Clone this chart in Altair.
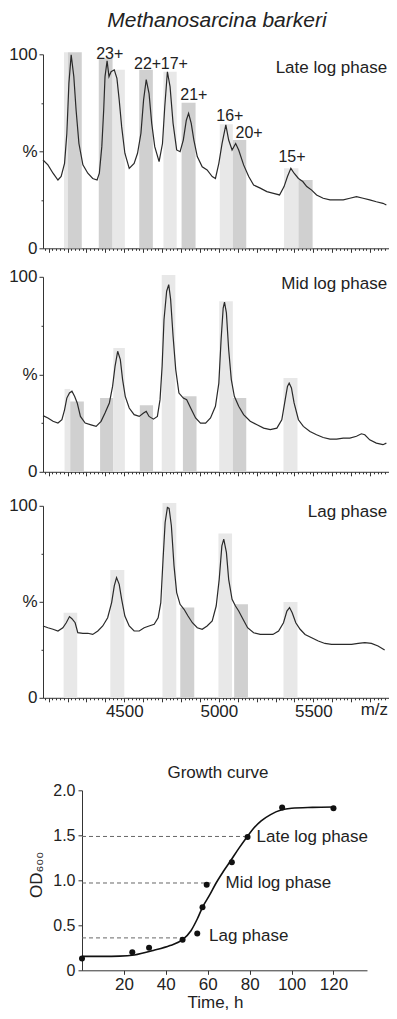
import altair as alt
import pandas as pd

FONT = "Liberation Sans"
INK = "#222222"
LIGHT = "#e8e8e8"
DARK = "#d0d0d0"

# ---------------- Mass spectra (m/z vs relative intensity %) ----------------
late_mz = [4070, 4096, 4123, 4149, 4166, 4184, 4196, 4207, 4219, 4233, 4245, 4260, 4281, 4307, 4333,
           4356, 4368, 4381, 4391, 4398, 4409, 4419, 4430, 4447, 4461, 4473, 4486, 4503, 4526, 4552,
           4570, 4588, 4602, 4616, 4631, 4645, 4661, 4684, 4702, 4714, 4728, 4742, 4758, 4777, 4795,
           4812, 4828, 4840, 4854, 4868, 4886, 4912, 4938, 4965, 4982, 5000, 5017, 5037, 5052, 5070,
           5089, 5105, 5131, 5158, 5184, 5219, 5254, 5289, 5321, 5345, 5363, 5381, 5398, 5421, 5444,
           5465, 5491, 5517, 5552, 5588, 5623, 5658, 5693, 5728, 5763, 5798, 5833, 5868, 5886]
late_pct = [45.5, 43, 38.7, 35.2, 37, 43.8, 59, 85, 99.7, 88.5, 71.3, 54, 43, 38.7, 36,
            35.2, 38.7, 52.4, 71.3, 88.5, 96.6, 88.5, 91, 92, 87.6, 76.5, 62.7, 49, 41.2, 43.8,
            49, 59.3, 76.5, 87, 79.7, 64.4, 52.4, 44.7, 54, 73, 91, 83.3, 64.4, 50.7, 49.8,
            55.8, 66, 69.6, 64.4, 55.8, 47.3, 42, 40.4, 37, 36, 43.8, 54, 63.6, 55.8, 50.7,
            54, 50.7, 43, 37, 32.6, 31, 29.2, 28.3, 27.5, 31.8, 37, 41.2, 38.7, 36, 34.4,
            31.8, 30, 27.5, 25.8, 25, 25, 25, 25.8, 26.6, 25.8, 25, 24, 23.2, 22.3]

mid_mz = [4070, 4096, 4123, 4149, 4170, 4184, 4196, 4210, 4223, 4237, 4251, 4268, 4293, 4324, 4351,
          4377, 4398, 4421, 4438, 4451, 4465, 4479, 4491, 4505, 4526, 4552, 4579, 4602, 4616, 4631,
          4654, 4675, 4689, 4700, 4710, 4724, 4735, 4745, 4758, 4772, 4789, 4812, 4830, 4851, 4877,
          4903, 4930, 4956, 4982, 5000, 5012, 5023, 5030, 5040, 5052, 5066, 5082, 5105, 5131, 5166,
          5202, 5237, 5272, 5307, 5333, 5351, 5363, 5372, 5384, 5398, 5421, 5447, 5482, 5517, 5552,
          5588, 5623, 5658, 5693, 5728, 5754, 5772, 5798, 5833, 5868, 5886]
mid_pct = [28.8, 27.6, 25.9, 25, 26.7, 31.8, 37.8, 40.4, 41.3, 38.7, 35.3, 28.4, 25, 24.1, 23.3,
           25.9, 30.1, 35.3, 43.8, 54.1, 61.8, 57.5, 47.3, 38.7, 32.7, 29.3, 28.4, 30.1, 31, 28.4,
           27, 28.4, 37, 54.1, 78, 92.6, 96, 88.4, 69.5, 52.4, 40.4, 37.8, 37, 32.7, 27.6,
           25, 25, 27.6, 33.6, 45.5, 67.8, 84, 87, 81.5, 62.7, 47.3, 38.7, 33.6, 29.3, 25.9,
           24.1, 22.4, 21.6, 22.4, 26.7, 37, 43.8, 45.5, 43, 35.3, 26.7, 23.3, 20.7, 19, 17.6,
           16.8, 16.8, 17.3, 17.3, 18.2, 19.5, 19, 16.4, 14.7, 13.9, 14.7]

lag_mz = [4070, 4096, 4123, 4149, 4175, 4193, 4210, 4223, 4240, 4254, 4281, 4307, 4333, 4360, 4386,
          4412, 4433, 4447, 4459, 4473, 4486, 4503, 4526, 4552, 4579, 4605, 4631, 4658, 4679, 4693,
          4705, 4716, 4728, 4737, 4749, 4763, 4777, 4795, 4816, 4837, 4860, 4886, 4912, 4938, 4965,
          4986, 5002, 5016, 5026, 5040, 5052, 5070, 5088, 5105, 5128, 5152, 5184, 5219, 5254, 5286,
          5316, 5342, 5360, 5374, 5388, 5407, 5430, 5456, 5491, 5526, 5561, 5596, 5631, 5666, 5702,
          5737, 5772, 5807, 5842, 5877]
lag_pct = [37.4, 36.5, 35.7, 34.8, 36.5, 39.1, 42.3, 41.2, 39.1, 33.9, 33.6, 33.6, 33, 34.8, 37.4,
           41.7, 49.6, 58.3, 62.6, 59.1, 51.3, 42.6, 37.4, 34.8, 34.8, 36.5, 37.4, 38.3, 41.7, 49.6,
           72.2, 91.3, 99.1, 98.6, 89.6, 68.7, 54.8, 48.7, 46.1, 42.6, 39.1, 36.5, 35.7, 37.4, 40,
           47.8, 61.7, 79.1, 82.6, 75.7, 61.7, 51.3, 47.8, 45.2, 40.9, 36.5, 33.9, 33, 33, 33,
           34.8, 39.1, 45.2, 47, 44.3, 39.1, 35.7, 33, 31.3, 29.6, 28.3, 27.8, 27.8, 27.8, 27.8,
           28.3, 28.7, 28.3, 27, 24.9]

# shaded windows behind the peaks
late_bar_start = [4181, 4202, 4365, 4438, 4579, 4707, 4803, 5005, 5074, 5345, 5421]
late_bar_end = [4202, 4275, 4438, 4503, 4651, 4777, 4877, 5074, 5145, 5421, 5496]
late_bar_top = [101, 101, 98, 92, 92, 91, 75, 64, 55.8, 41.2, 35.2]
late_bar_shade = ["light", "dark", "dark", "light", "dark", "light", "dark", "light", "dark", "light", "dark"]

mid_bar_start = [4184, 4214, 4372, 4442, 4582, 4698, 4810, 5002, 5074, 5342]
mid_bar_end = [4214, 4286, 4442, 4503, 4652, 4770, 4882, 5074, 5145, 5416]
mid_bar_top = [42.5, 36.1, 37.8, 63.5, 34.1, 100.9, 38.7, 87.5, 37.8, 48.1]
mid_bar_shade = ["light", "dark", "dark", "light", "dark", "light", "dark", "light", "dark", "light"]

lag_bar_start = [4179, 4426, 4702, 4796, 4998, 5081, 5342]
lag_bar_end = [4251, 4500, 4775, 4870, 5070, 5154, 5416]
lag_bar_top = [44.3, 66.6, 101.5, 47, 85.6, 48.7, 49.9]
lag_bar_shade = ["light", "light", "light", "dark", "light", "dark", "light"]

peak_labels = ["23+", "22+", "17+", "21+", "16+", "20+", "15+"]
peak_label_mz = [4423, 4623, 4765, 4868, 5058, 5160, 5387]
peak_label_pct = [100.2, 95, 95, 79, 68.2, 59.3, 47.2]

phase_names = ["Late log phase", "Mid log phase", "Lag phase"]
phase_label_pct = [92.8, 96.4, 97]
PHASE_MZ = 5890

species_title = "Methanosarcina barkeri"
TITLE_MZ = 4990
TITLE_PCT = 117.4

MZ_DOMAIN = [4070, 5900]
mz_ticks = list(range(4080, 5900, 20))
PANEL_W = 346

# ---------------- Growth curve ----------------
obs_time = [0, 24, 32, 48, 55, 57.5, 59.5, 71.5, 79, 95.5, 120]
obs_od = [0.13, 0.20, 0.25, 0.34, 0.41, 0.70, 0.95, 1.20, 1.48, 1.81, 1.80]
fit_time = [0, 10, 18, 25, 34, 42, 48, 52, 55, 57.5, 61, 64, 67.5, 71, 75, 79, 82, 85.5, 90, 95, 100, 110, 120]
fit_od = [0.155, 0.155, 0.157, 0.17, 0.22, 0.275, 0.34, 0.44, 0.57, 0.70, 0.84, 0.97, 1.10, 1.22, 1.36,
          1.49, 1.58, 1.66, 1.73, 1.78, 1.80, 1.81, 1.815]
level_od = [1.487, 0.97, 0.36]
level_end = [78, 61.5, 48.5]
gphase_names = ["Late log phase", "Mid log phase", "Lag phase"]
gphase_time = [83.3, 68.5, 60.6]
gphase_od = [1.48, 0.97, 0.385]

G_LEFT = 39      # growth axis starts this far right of the spectra axis
G_WIDTH = 285


def cond(test, major, minor):
    return {"condition": {"test": test, "value": major}, "value": minor}


def spectrum_panel(mz, pct, starts, ends, tops, shades, phase, phase_pct, height,
                   with_labels=False, peaks=None, title=None):
    line_df = pd.DataFrame({"mz": mz, "pct": pct})
    bar_df = pd.DataFrame({"start": starts, "end": ends, "top": tops,
                           "base": [0] * len(tops), "shade": shades})
    xs = alt.Scale(domain=MZ_DOMAIN, nice=False, zero=False)
    ys = alt.Scale(domain=[0, 100], nice=False)
    common_x = dict(values=mz_ticks, title=None,
                    tickSize=cond("datum.value % 100 === 0", 4, 2),
                    labelOverlap=False, labelFlush=False)
    if with_labels:
        xaxis = alt.Axis(labelExpr="datum.value % 500 === 0 ? format(datum.value, 'd') : "
                                   "(datum.value === 5820 ? 'm/z' : '')",
                         labelFontSize=17, labelPadding=2, **common_x)
    else:
        xaxis = alt.Axis(labels=False, **common_x)
    yaxis = alt.Axis(values=[0, 25, 50, 75, 100], title=None,
                     labelExpr="datum.value === 100 ? '100' : (datum.value === 50 ? '%' : "
                               "(datum.value === 0 ? '0' : ''))",
                     tickSize=cond("datum.value % 50 === 0", 4, 2),
                     labelFontSize=17, labelPadding=2, labelOverlap=False, labelFlush=False)
    X = lambda f: alt.X(f, scale=xs, axis=xaxis)
    Y = lambda f: alt.Y(f, scale=ys, axis=yaxis)
    bars = alt.Chart(bar_df).mark_rect().encode(
        x=X("start:Q"), x2="end:Q", y=Y("top:Q"), y2="base:Q",
        color=alt.Color("shade:N", scale=alt.Scale(domain=["light", "dark"], range=[LIGHT, DARK]),
                        legend=None),
    )
    line = alt.Chart(line_df).mark_line(color="#2a2a2a", strokeWidth=1.2).encode(
        x=X("mz:Q"), y=Y("pct:Q"))
    ph = pd.DataFrame({"mz": [PHASE_MZ], "pct": [phase_pct], "label": [phase]})
    ptext = alt.Chart(ph).mark_text(align="right", baseline="middle", font=FONT,
                                    fontSize=17, color=INK).encode(
        x=X("mz:Q"), y=Y("pct:Q"), text="label:N")
    layers = [bars, line, ptext]
    if peaks is not None:
        pk = pd.DataFrame({"mz": peaks[1], "pct": peaks[2], "label": peaks[0]})
        layers.append(alt.Chart(pk).mark_text(align="center", baseline="middle", font=FONT,
                                              fontSize=16, color=INK).encode(
            x=X("mz:Q"), y=Y("pct:Q"), text="label:N"))
    if title is not None:
        tt = pd.DataFrame({"mz": [TITLE_MZ], "pct": [TITLE_PCT], "label": [title]})
        layers.append(alt.Chart(tt).mark_text(align="center", baseline="middle", font=FONT,
                                              fontSize=21, fontStyle="italic", color=INK).encode(
            x=X("mz:Q"), y=Y("pct:Q"), text="label:N"))
    return alt.layer(*layers).properties(width=PANEL_W, height=height)


p_late = spectrum_panel(late_mz, late_pct, late_bar_start, late_bar_end, late_bar_top, late_bar_shade,
                        phase_names[0], phase_label_pct[0], 194,
                        peaks=(peak_labels, peak_label_mz, peak_label_pct), title=species_title)
p_mid = spectrum_panel(mid_mz, mid_pct, mid_bar_start, mid_bar_end, mid_bar_top, mid_bar_shade,
                       phase_names[1], phase_label_pct[1], 195)
p_lag = spectrum_panel(lag_mz, lag_pct, lag_bar_start, lag_bar_end, lag_bar_top, lag_bar_shade,
                       phase_names[2], phase_label_pct[2], 192, with_labels=True)

# ---------------- growth curve chart ----------------
gx = alt.Scale(domain=[0, 136], nice=False, zero=False, range=[G_LEFT, G_LEFT + G_WIDTH])
gy = alt.Scale(domain=[0, 2], nice=False)
gxaxis = alt.Axis(values=[20, 40, 60, 80, 100, 120], title="Time, h", tickSize=4,
                  labelFontSize=17, labelPadding=2, titleFontSize=17, titleFontWeight="normal",
                  titleX=172, titleY=24, titleBaseline="top", titleAlign="center",
                  labelOverlap=False, labelFlush=False)
gyaxis = alt.Axis(values=[0, 0.5, 1, 1.5, 2], title="OD₆₀₀", tickSize=4, offset=-G_LEFT,
                  labelExpr="datum.value === 0 ? '0' : format(datum.value, '.1f')",
                  labelFontSize=16, labelPadding=3, titleFontSize=17, titleFontWeight="normal",
                  titleAngle=270, titleX=-46, titleY=84, titleAlign="center", titleBaseline="middle",
                  labelOverlap=False, labelFlush=False)

obs_df = pd.DataFrame({"t": obs_time, "od": obs_od})
fit_df = pd.DataFrame({"t": fit_time, "od": fit_od})
lvl_df = pd.DataFrame({"t0": [0] * len(level_od), "t1": level_end, "od": level_od})
gph_df = pd.DataFrame({"t": gphase_time, "od": gphase_od, "label": gphase_names})

GX = lambda f: alt.X(f, scale=gx, axis=gxaxis)
GY = lambda f: alt.Y(f, scale=gy, axis=gyaxis)
rules = alt.Chart(lvl_df).mark_rule(strokeDash=[4, 3], color="#666666", strokeWidth=1).encode(
    x=GX("t0:Q"), x2="t1:Q", y=GY("od:Q"))
fit = alt.Chart(fit_df).mark_line(color="#111111", strokeWidth=1.6, interpolate="monotone").encode(
    x=GX("t:Q"), y=GY("od:Q"))
pts = alt.Chart(obs_df).mark_circle(size=36, color="#111111", opacity=1).encode(
    x=GX("t:Q"), y=GY("od:Q"))
gtext = alt.Chart(gph_df).mark_text(align="left", baseline="middle", font=FONT, fontSize=17,
                                    color=INK).encode(x=GX("t:Q"), y=GY("od:Q"), text="label:N")

growth = alt.layer(rules, fit, pts, gtext).properties(
    width=PANEL_W, height=180,
    title=alt.TitleParams("Growth curve", font=FONT, fontSize=17, fontWeight="normal", color=INK,
                          frame="group", anchor="middle", dx=2, offset=0),
)

spectra = alt.vconcat(alt.vconcat(p_late, p_mid, spacing=11.5), p_lag, spacing=16.5)
chart = alt.vconcat(spectra, growth, spacing=44).properties(
    padding={"left": 0, "top": 1.3, "right": 0, "bottom": 0}
).configure_view(stroke=None).configure_axis(
    grid=False, domainColor="#333333", tickColor="#333333", labelColor=INK, titleColor=INK,
    labelFont=FONT, titleFont=FONT, domainWidth=1, tickWidth=1
)

chart.save("out.html", embed_options={"renderer": "svg", "actions": False})
